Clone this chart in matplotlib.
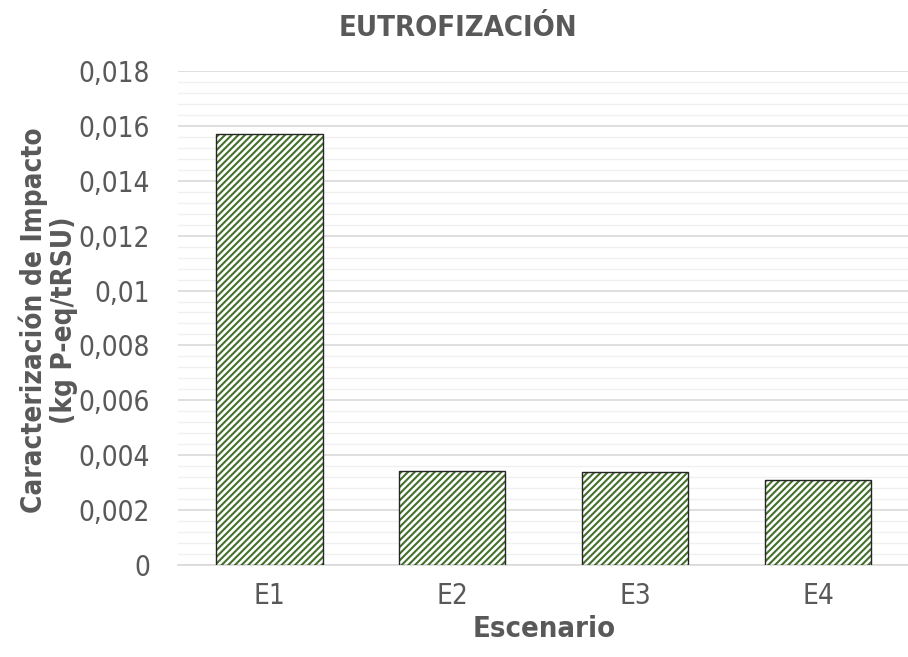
import matplotlib.pyplot as plt
from matplotlib.ticker import MultipleLocator, FuncFormatter

# datos
escenarios = ['E1', 'E2', 'E3', 'E4']
eutrofizacion = [0.0157, 0.00342, 0.00340, 0.00310]

plt.rcParams['font.family'] = ['DejaVu Sans']
plt.rcParams['font.stretch'] = 'condensed'
plt.rcParams['hatch.linewidth'] = 1.5

fig = plt.figure(figsize=(9.08, 6.57), dpi=100)
ax = fig.add_axes([0.196, 0.140, 0.806, 0.752])

# relleno rayado verde y borde oscuro por separado
ax.bar(escenarios, eutrofizacion, width=0.58, color='white',
       edgecolor='#43702a', linewidth=0, hatch='/////', zorder=3)
ax.bar(escenarios, eutrofizacion, width=0.58, color='none',
       edgecolor='#262626', linewidth=1.0, zorder=4)

ax.set_ylim(0, 0.018)
ax.set_xlim(-0.5, 3.5)
ax.yaxis.set_major_locator(MultipleLocator(0.002))
ax.yaxis.set_minor_locator(MultipleLocator(0.0004))
ax.yaxis.set_major_formatter(FuncFormatter(
    lambda v, p: '0' if v == 0 else f'{v:g}'.replace('.', ',')))
ax.grid(which='major', axis='y', color='#d9d9d9', linewidth=1.2, zorder=0)
ax.grid(which='minor', axis='y', color='#f0f0f0', linewidth=1.0, zorder=0)

for s in ['top', 'right', 'left']:
    ax.spines[s].set_visible(False)
ax.spines['bottom'].set_color('#d9d9d9')
ax.spines['bottom'].set_linewidth(1.2)
ax.tick_params(axis='both', which='both', length=0, labelsize=20,
               colors='#595959')
ax.tick_params(axis='y', pad=20)
ax.tick_params(axis='x', pad=12)

ax.set_xlabel('Escenario', fontsize=21, fontweight='bold', color='#595959',
              labelpad=4)
fig.text(0.053, 0.513, 'Caracterización de Impacto\n(kg P-eq/tRSU)',
         rotation=90, ha='center', va='center', fontsize=20,
         fontweight='bold', color='#595959', linespacing=1.1)
fig.text(0.504, 0.957, 'EUTROFIZACIÓN', ha='center', va='center',
         fontsize=21, fontweight='bold', color='#595959')

plt.savefig('out.png', dpi=100)
